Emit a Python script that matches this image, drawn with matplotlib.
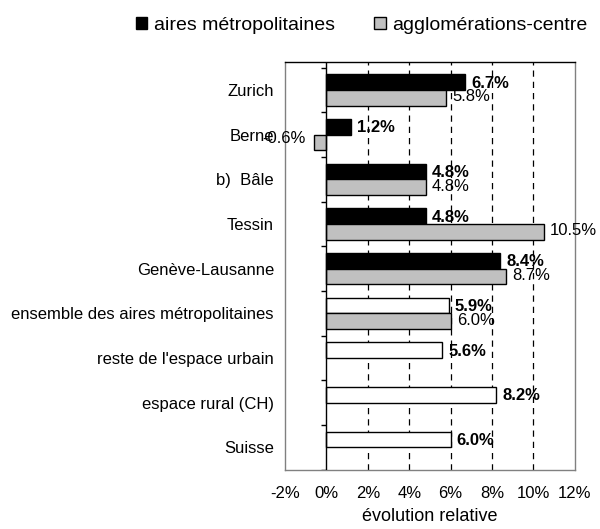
"""
Evolution relative : aires metropolitaines vs agglomerations-centre
"""

import matplotlib
matplotlib.use('Agg')
import matplotlib.pyplot as plt
from matplotlib.patches import Patch
import numpy as np

plt.rcParams['font.family'] = ['Liberation Sans', 'DejaVu Sans']

# Donnees
categories = ['Zurich', 'Berne', 'b)  Bâle', 'Tessin', 'Genève-Lausanne',
              'ensemble des aires métropolitaines', "reste de l'espace urbain",
              'espace rural (CH)', 'Suisse']
aires_metro = [6.7, 1.2, 4.8, 4.8, 8.4, 5.9, 5.6, 8.2, 6.0]
agglo_centre = [5.8, -0.6, 4.8, 10.5, 8.7, 6.0, None, None, None]
n_aires = 5  # les 5 premieres sont des aires metropolitaines (barres noires)
xticks = [-2, 0, 2, 4, 6, 8, 10, 12]

fig = plt.figure(figsize=(6, 5.29), dpi=100)
ax = fig.add_axes([0.475, 0.112, 0.483, 0.771])

y = np.arange(len(categories))
h = 0.35

# Barres
for i, v in enumerate(aires_metro):
    color = 'black' if i < n_aires else 'white'
    ax.barh(y[i] - h / 2, v, height=h, color=color, edgecolor='black', linewidth=1, zorder=3)
    ax.text(v + 0.3, y[i] - h / 2 + 0.02, f"{v:.1f}%", va='center', ha='left',
            fontsize=12, fontweight='bold', zorder=4, clip_on=False)

for i, v in enumerate(agglo_centre):
    if v is None:
        continue
    ax.barh(y[i] + h / 2, v, height=h, color='#c0c0c0', edgecolor='black', linewidth=1, zorder=3)
    if v >= 0:
        ax.text(v + 0.3, y[i] + h / 2 - 0.02, f"{v:.1f}%", va='center', ha='left',
                fontsize=12, zorder=4, clip_on=False)
    else:
        ax.text(v - 0.4, y[i] + h / 2 - 0.1, f"{v:.1f}%", va='center', ha='right',
                fontsize=12, zorder=4, clip_on=False)

# Grille et axe a 0
for xv in xticks[2:-1]:
    ax.axvline(xv, color='black', linestyle=(0, (5, 4)), linewidth=0.9, zorder=1)
ax.axvline(0, color='black', linewidth=1, zorder=5)
bounds = np.arange(len(categories) + 1) - 0.5
ax.hlines(bounds, -0.25, 0, color='black', linewidth=1, zorder=5)

ax.set_xlim(-2, 12)
ax.set_ylim(8.5, -0.63)
ax.set_xticks(xticks)
ax.set_xticklabels([f"{t}%" for t in xticks], fontsize=12)
ax.set_yticks(y)
ax.set_yticklabels(categories, fontsize=12)
ax.tick_params(axis='x', length=0, pad=12)
ax.tick_params(axis='y', length=0, pad=8)
ax.set_xlabel('évolution relative', fontsize=13, labelpad=5)

for s in ax.spines.values():
    s.set_color('#808080')
    s.set_linewidth(1)
ax.spines['top'].set_color('black')

# Legende
handles = [Patch(facecolor='black', edgecolor='black', label='aires métropolitaines'),
           Patch(facecolor='#c0c0c0', edgecolor='black', label='agglomérations-centre')]
fig.legend(handles=handles, loc='center', bbox_to_anchor=(0.603, 0.952), ncol=2,
           frameon=False, fontsize=14, handlelength=0.6, handleheight=0.6,
           handletextpad=0.35, columnspacing=2.0)

plt.savefig('out.png', dpi=100)
